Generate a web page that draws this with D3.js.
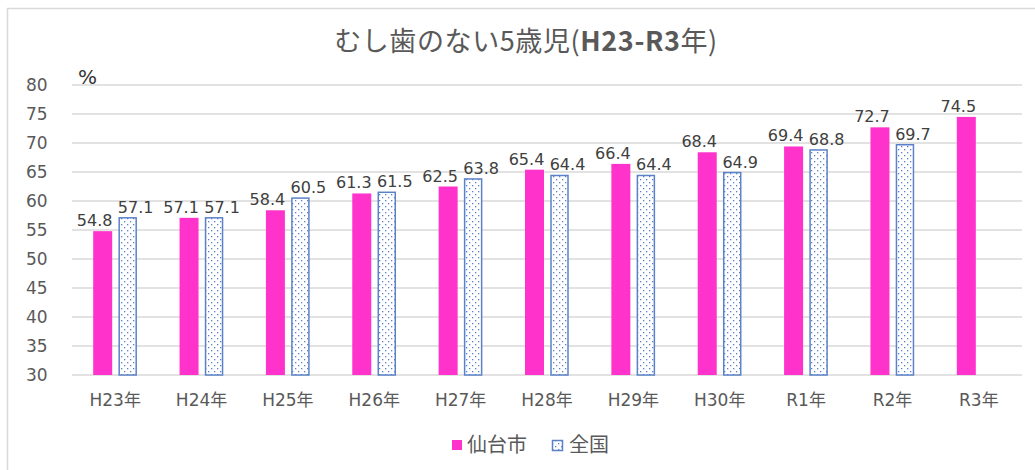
<!DOCTYPE html>
<html>
<head>
<meta charset="utf-8">
<script src="https://cdn.jsdelivr.net/npm/d3@7"></script>
<style>
  body { margin: 0; background: #fff; }
  svg text { font-family: "DejaVu Sans", "Noto Sans CJK JP", sans-serif; fill: #595959; }
</style>
</head>
<body>
<div id="chart"></div>
<script>
// data
var categories = ["H23年","H24年","H25年","H26年","H27年","H28年","H29年","H30年","R1年","R2年","R3年"];
var sendai = [54.8, 57.1, 58.4, 61.3, 62.5, 65.4, 66.4, 68.4, 69.4, 72.7, 74.5];
var zenkoku = [57.1, 57.1, 60.5, 61.5, 63.8, 64.4, 64.4, 64.9, 68.8, 69.7, null];
var yTicks = [30, 35, 40, 45, 50, 55, 60, 65, 70, 75, 80];
var seriesNames = ["仙台市", "全国"];

var W = 1035, H = 470;
var margin = {top: 85, right: 13, bottom: 95, left: 72};
var width = W - margin.left - margin.right;
var height = H - margin.top - margin.bottom;

var svg = d3.select("#chart").append("svg")
  .attr("width", W)
  .attr("height", H);

// dotted pattern for 全国
var defs = svg.append("defs");
var pat = defs.append("pattern")
  .attr("id", "dots")
  .attr("patternUnits", "userSpaceOnUse")
  .attr("width", 6).attr("height", 6);
pat.append("rect").attr("width", 6).attr("height", 6).attr("fill", "#fff");
pat.append("rect").attr("x", 1).attr("y", 1).attr("width", 1.3).attr("height", 1.3).attr("fill", "#5b82c8");
pat.append("rect").attr("x", 4).attr("y", 4).attr("width", 1.3).attr("height", 1.3).attr("fill", "#5b82c8");

// chart frame
svg.append("path")
  .attr("d", "M7.5," + H + "V8.5H" + W)
  .attr("fill", "none")
  .attr("stroke", "#d9d9d9")
  .attr("stroke-width", 1.5);

// title
var title = svg.append("text")
  .attr("x", 526).attr("y", 51)
  .attr("text-anchor", "middle")
  .style("font-family", "'Noto Sans CJK JP', sans-serif")
  .style("font-size", "27px")
  .style("letter-spacing", "0.6px");
title.append("tspan").text("むし歯のない5歳児(");
title.append("tspan").style("font-weight", "bold").text("H23-R3");
title.append("tspan").text("年)");

var g = svg.append("g")
  .attr("transform", "translate(" + margin.left + "," + margin.top + ")");

var x = d3.scaleBand().domain(categories).range([0, width]);
var y = d3.scaleLinear().domain([30, 80]).range([height, 0]);

// gridlines
g.selectAll(".grid")
  .data(yTicks)
  .enter().append("line")
  .attr("x1", 0).attr("x2", width)
  .attr("y1", function(d) { return y(d); })
  .attr("y2", function(d) { return y(d); })
  .attr("stroke", "#d9d9d9")
  .attr("stroke-width", 1.5);

// y axis labels
var yAxis = g.append("g")
  .call(d3.axisLeft(y).tickValues(yTicks).tickSize(0).tickPadding(46));
yAxis.select(".domain").remove();
yAxis.selectAll("text")
  .style("font-size", "17px")
  .attr("fill", "#595959")
  .attr("text-anchor", "start");

g.append("text")
  .attr("x", 6).attr("y", -1)
  .style("font-size", "20px")
  .style("fill", "#333")
  .text("%");

// x axis
var xAxis = g.append("g")
  .attr("transform", "translate(0," + height + ")")
  .call(d3.axisBottom(x).tickSize(0).tickPadding(19));
xAxis.select(".domain").remove();
xAxis.selectAll("text")
  .style("font-size", "17px")
  .attr("fill", "#595959");

var barW = 19, gap = 6;
function xPink(i) { return x(categories[i]) + x.bandwidth() / 2 - gap / 2 - barW; }
function xBlue(i) { return x(categories[i]) + x.bandwidth() / 2 + gap / 2; }

// 仙台市 bars
g.selectAll(".pink")
  .data(sendai)
  .enter().append("rect")
  .attr("x", function(d, i) { return xPink(i); })
  .attr("width", barW)
  .attr("y", function(d) { return y(d); })
  .attr("height", function(d) { return height - y(d); })
  .attr("fill", "#ff33cc");

// 全国 bars
var zData = zenkoku.map(function(d, i) { return {v: d, i: i}; }).filter(function(d) { return d.v != null; });
g.selectAll(".blue")
  .data(zData)
  .enter().append("rect")
  .attr("x", function(d) { return xBlue(d.i) + 1; })
  .attr("width", barW - 2)
  .attr("y", function(d) { return y(d.v); })
  .attr("height", function(d) { return height - y(d.v); })
  .attr("fill", "url(#dots)")
  .attr("stroke", "#5b82c8")
  .attr("stroke-width", 1.5);

// data labels (pushed apart a little, like the reference)
g.selectAll(".lblP")
  .data(sendai)
  .enter().append("text")
  .attr("x", function(d, i) { return xPink(i) + barW / 2 - 8; })
  .attr("y", function(d) { return y(d) - 5; })
  .attr("text-anchor", "middle")
  .style("font-size", "16px")
  .style("fill", "#404040")
  .text(function(d) { return d.toFixed(1); });

g.selectAll(".lblB")
  .data(zData)
  .enter().append("text")
  .attr("x", function(d) { return xBlue(d.i) + barW / 2 + 8; })
  .attr("y", function(d) { return y(d.v) - 5; })
  .attr("text-anchor", "middle")
  .style("font-size", "16px")
  .style("fill", "#404040")
  .text(function(d) { return d.v.toFixed(1); });

// legend
var lg = svg.append("g").attr("transform", "translate(452,445)");
lg.append("rect").attr("x", 0).attr("y", -5).attr("width", 10).attr("height", 10).attr("fill", "#ff33cc");
lg.append("text").attr("x", 15).attr("y", 7).style("font-size", "20px").text(seriesNames[0]);
lg.append("rect").attr("x", 100.5).attr("y", -4.5).attr("width", 10).attr("height", 10)
  .attr("fill", "url(#dots)").attr("stroke", "#5b82c8").attr("stroke-width", 1.5);
lg.append("text").attr("x", 117).attr("y", 7).style("font-size", "20px").text(seriesNames[1]);
</script>
</body>
</html>
